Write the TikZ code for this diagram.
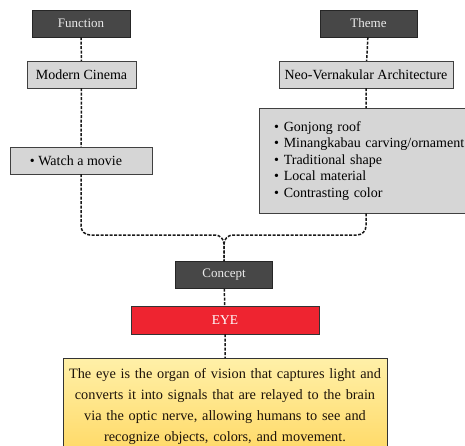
\documentclass[tikz,border=0pt]{standalone}
\usepackage{fontspec}
\setmainfont{Liberation Serif}
\definecolor{headgray}{HTML}{474747}
\definecolor{boxgray}{HTML}{D6D6D6}
\definecolor{eyered}{HTML}{EE2430}
\definecolor{noteyellow}{HTML}{FFD966}
\definecolor{notelight}{HTML}{FFF0A8}
\begin{document}
\begin{tikzpicture}[x=1pt,y=-1pt,
  head/.style={draw=black!85,fill=headgray,text=white!92!black,minimum height=27pt,inner sep=0pt,font=\fontsize{13}{15}\selectfont},
  item/.style={draw=black!75,fill=boxgray,minimum height=27pt,inner sep=0pt,font=\fontsize{14}{15}\selectfont},
  link/.style={draw=black!90,line width=1.5pt,dash pattern=on 3pt off 1.5pt}]
\clip (0,0) rectangle (465,445);
\fill[white] (0,0) rectangle (465,445);

\node (fun) at (81,23.5) [head, minimum width=98pt] {Function};
\node (cinema) at (81.5,74.5) [item, minimum width=109pt] {Modern Cinema};
\node (watch) at (81,160.5) [item, minimum width=142pt] {\hspace*{-10pt}• Watch a movie};

\node (theme) at (368.5,23.5) [head, minimum width=97pt] {Theme};
\node (neo) at (366,74.5) [item, minimum width=174pt] {Neo-Vernakular Architecture};
\node (list) at (259,108) [item, anchor=north west, minimum width=230pt, minimum height=105pt,
  align=left, text width=214pt, inner xsep=15pt, font=\fontsize{14}{16.5}\selectfont]
  {• Gonjong roof\\• Minangkabau carving/ornament\\• Traditional shape\\• Local material\\• Contrasting color};

\coordinate (bus) at (224,235);
\node (concept) at (224,275) [head, minimum width=97pt] {Concept};
\node (eye) at (225,320) [draw=black!80, fill=eyered, text=white, minimum width=188pt, minimum height=28pt,
  inner sep=0pt, font=\fontsize{13.5}{15}\selectfont] {EYE};
\node (desc) at (225,358) [anchor=north, draw=black!80, top color=notelight, bottom color=noteyellow,
  minimum width=324pt, minimum height=96pt, text width=320pt, align=center, inner sep=2pt,
  text=black!85!brown, font=\fontsize{14.3}{21}\selectfont]
  {The eye is the organ of vision that captures light and\\converts it into signals that are relayed to the brain\\via the optic nerve, allowing humans to see and\\recognize objects, colors, and movement.};

\draw[link]
(fun) to (cinema)
(cinema) to (watch)
(theme) to (neo)
(neo) to (list.north -| neo.south)
(concept) to (eye)
(eye) to (desc);
\draw[link,rounded corners=9pt] (watch.south) |- (bus) -- (concept.north);
\draw[link,rounded corners=9pt] (neo.south |- list.south) |- (bus) -- (concept.north);
\end{tikzpicture}
\end{document}
